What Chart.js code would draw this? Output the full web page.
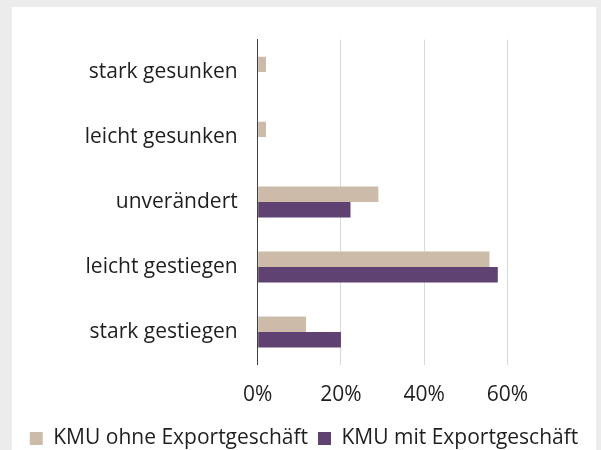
<!DOCTYPE html>
<html>
<head>
<meta charset="utf-8">
<script src="https://cdn.jsdelivr.net/npm/chart.js@4"></script>
<style>
  html, body { margin: 0; padding: 0; background: #ececec; overflow: hidden; width: 601px; height: 450px; }
  #panel { position: absolute; left: 12px; top: 7px; width: 584px; height: 452px; background: #ffffff; }
</style>
</head>
<body>
<div id="panel"><canvas id="chart" width="584" height="452"></canvas></div>
<script>
// Kategorien (von oben nach unten)
const categories = ['stark gesunken', 'leicht gesunken', 'unverändert', 'leicht gestiegen', 'stark gestiegen'];
// Anteile in Prozent
const ohneExport = [2, 2, 29, 55.7, 11.6];
const mitExport = [0, 0, 22.3, 57.7, 20];
const seriesNames = ['KMU ohne Exportgeschäft', 'KMU mit Exportgeschäft'];
const xTicks = [0, 20, 40, 60];

const font = { family: '"Open Sans", "Noto Sans", sans-serif', size: 21 };
const textColor = '#1f1f1f';

let ctx = document.getElementById('chart').getContext('2d');

let chart = new Chart(ctx, {
    type: 'bar',
    data: {
        labels: categories,
        datasets: [{
            label: seriesNames[0],
            data: ohneExport,
            backgroundColor: '#cdbbaa',
            categoryPercentage: 0.475,
            barPercentage: 1
        }, {
            label: seriesNames[1],
            data: mitExport,
            backgroundColor: '#5f4272',
            categoryPercentage: 0.475,
            barPercentage: 1
        }]
    },
    options: {
        responsive: false,
        animation: false,
        indexAxis: 'y',
        layout: { padding: { top: 30.5, right: 0, left: 0, bottom: 0 } },
        scales: {
            x: {
                min: 0,
                max: 81.3,
                afterBuildTicks: (scale) => {
                    scale.ticks = xTicks.map(v => ({ value: v }));
                },
                afterFit: (scale) => { scale.height = 53.5; },
                ticks: {
                    font: font,
                    color: textColor,
                    padding: 18,
                    callback: (v) => v + '%'
                },
                grid: { color: '#d9d9d9', lineWidth: 1, drawTicks: false },
                border: { display: false }
            },
            y: {
                afterFit: (scale) => { scale.width = 245.7; },
                ticks: { font: font, color: textColor, padding: 20 },
                grid: { display: false, drawTicks: false },
                border: { display: true, color: '#404040', width: 1 }
            }
        },
        plugins: {
            legend: {
                position: 'bottom',
                labels: {
                    font: font,
                    color: textColor,
                    boxWidth: 13,
                    boxHeight: 13,
                    padding: 10
                }
            },
            tooltip: { enabled: false }
        }
    }
});
</script>
</body>
</html>
